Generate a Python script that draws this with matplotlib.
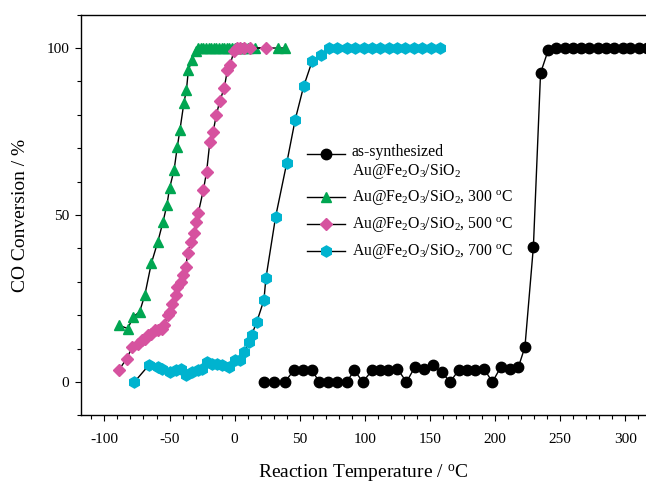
import matplotlib
matplotlib.use("Agg")
import matplotlib.pyplot as plt
from matplotlib.ticker import MultipleLocator
from matplotlib.legend_handler import HandlerLine2D

plt.rcParams['font.family'] = 'Liberation Serif'
plt.rcParams['mathtext.fontset'] = 'custom'
plt.rcParams['mathtext.rm'] = 'Liberation Serif'
plt.rcParams['mathtext.it'] = 'Liberation Serif:italic'
plt.rcParams['axes.unicode_minus'] = False

# as-synthesized Au@Fe2O3/SiO2
t_as = [22.5, 30.5, 38.5, 45.5, 52.5, 59.5, 65, 72, 79, 86, 92, 98.5, 105.5, 112,
        118, 125, 132, 138.5, 145.5, 152, 159, 165.5, 172, 178.5, 184.5, 191.5,
        198, 204.5, 211.5, 218, 223, 229.5, 235, 241, 247, 253.5, 260, 266, 272.5,
        279, 285, 291.5, 298, 304, 310.5, 317]
y_as = [0, 0, 0, 3.5, 3.5, 3.5, 0, 0, 0, 0, 3.5, 0, 3.5, 3.5, 3.5, 4, 0, 4.5, 4,
        5, 3, 0, 3.5, 3.5, 3.5, 4, 0, 4.5, 4, 4.5, 10.5, 40.5, 92.5, 99.5,
        100, 100, 100, 100, 100, 100, 100, 100, 100, 100, 100, 100]

# calcined at 300 C
t_300 = [-89, -82, -78, -73, -69, -64, -59, -55, -52, -50, -46.5, -44, -42, -39,
         -37, -35.5, -32.5, -30, -28, -26, -24, -22, -20, -18, -16, -14, -12,
         -10, -8, -6, -4, -2, 0, 2, 4, 6, 8, 10, 16, 33, 39]
y_300 = [17, 16, 19.5, 21, 26, 35.5, 42, 48, 53, 58, 63.5, 70.5, 75.5, 83.5,
         87.5, 93.5, 96.5, 99, 100, 100, 100, 100, 100, 100, 100, 100, 100,
         100, 100, 100, 100, 100, 100, 100, 100, 100, 100, 100, 100, 100, 100]

# calcined at 500 C
t_500 = [-89, -83, -78.5, -74.5, -71.5, -69, -66.5, -64, -61.5, -59, -56, -54,
         -51.5, -49.5, -48, -45, -44, -41.5, -40, -37.5, -36, -33.5, -31, -30,
         -28, -24, -21.5, -19, -16.5, -14, -11.5, -8, -5.5, -3.5, -0.5, 2, 4.5,
         7, 12, 24]
y_500 = [3.5, 7, 10.5, 11.5, 12.5, 13, 14, 14.5, 15.5, 15.5, 16, 17, 20, 21,
         23.5, 26, 28.5, 30, 32, 34.5, 38.5, 42, 44.5, 48, 50.5, 57.5, 63, 72,
         75, 80, 84, 88, 93.5, 95, 99, 100, 100, 100, 100, 100]

# calcined at 700 C
t_700 = [-77, -66, -59, -55.5, -50, -45, -41.5, -37, -32.5, -28.5, -25, -21.5,
         -17.5, -13.5, -9.5, -4.5, 0, 4.5, 7.5, 11, 13, 17, 22.5, 24, 31.5, 40,
         46.5, 53, 59.5, 66.5, 72.5, 79, 86, 92.5, 99, 105.5, 112, 118.5, 125,
         131, 137.5, 144, 150.5, 158]
y_700 = [0, 5, 4.5, 4, 3, 3.5, 4, 2, 3, 3.5, 4, 6, 5.5, 5.5, 5, 4.5, 6.5, 6.5,
         9, 12, 14, 18, 24.5, 31, 49.5, 65.5, 78.5, 88.5, 96, 98, 100, 100, 100,
         100, 100, 100, 100, 100, 100, 100, 100, 100, 100, 100]

cat = r'Au@Fe$_2$O$_3$/SiO$_2$'
series = [
    (t_as, y_as, 'o', '#000000', 'as-synthesized\n' + cat, 7.5),
    (t_300, y_300, '^', '#00a651', cat + r', 300 $^\mathrm{o}$C', 7.5),
    (t_500, y_500, 'D', '#d6529f', cat + r', 500 $^\mathrm{o}$C', 6.5),
    (t_700, y_700, 'h', '#00b3cf', cat + r', 700 $^\mathrm{o}$C', 8),
]


class FirstLineHandler(HandlerLine2D):
    # put the legend handle next to the first line of a two-line label
    def __init__(self, shift, **kw):
        super().__init__(**kw)
        self.shift = shift

    def create_artists(self, legend, orig_handle, xdescent, ydescent, width,
                       height, fontsize, trans):
        arts = super().create_artists(legend, orig_handle, xdescent, ydescent,
                                      width, height, fontsize, trans)
        for a in arts:
            a.set_ydata([v + self.shift for v in a.get_ydata()])
        return arts


fig = plt.figure(figsize=(6.46, 4.84), dpi=100)
ax = fig.add_axes([0.1254, 0.1417, 0.8746, 0.8281])

lines = []
for t, y, m, c, lab, ms in series:
    ln, = ax.plot(t, y, color='black', lw=1.0, marker=m, ms=ms, mfc=c, mec=c,
                  label=lab)
    lines.append(ln)

ax.set_xlim(-118, 316)
ax.set_ylim(-10, 110)
ax.xaxis.set_major_locator(MultipleLocator(50))
ax.xaxis.set_minor_locator(MultipleLocator(10))
ax.yaxis.set_major_locator(MultipleLocator(50))
ax.yaxis.set_minor_locator(MultipleLocator(10))
ax.tick_params(which='major', direction='out', length=4.3, width=0.8,
               labelsize=11)
ax.tick_params(which='minor', direction='out', length=2.8, width=0.8)
ax.tick_params(axis='x', pad=8)
ax.tick_params(axis='y', pad=4)
ax.spines['right'].set_visible(False)
for s in ['left', 'bottom', 'top']:
    ax.spines[s].set_linewidth(1.0)

ax.set_xlabel(r'Reaction Temperature / $^\mathrm{o}$C', fontsize=14,
              labelpad=12.5)
ax.set_ylabel('CO Conversion / %', fontsize=14, labelpad=13)

ax.legend(loc='upper left', bbox_to_anchor=(0.3865, 0.6975), frameon=False,
          fontsize=11.3, handlelength=2.4, handletextpad=0.45,
          labelspacing=0.5, borderpad=0,
          handler_map={lines[0]: FirstLineHandler(6.2)})

fig.savefig('out.png', dpi=100)
